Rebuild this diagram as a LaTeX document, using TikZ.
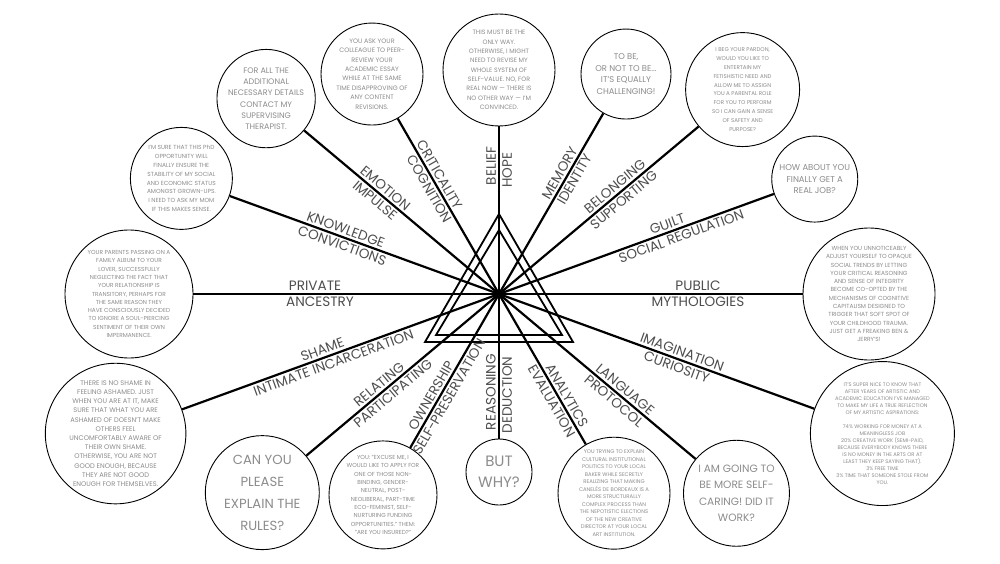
\documentclass[tikz,border=0pt]{standalone}
\usepackage{fontspec}
\setmainfont{Poppins}
\usetikzlibrary{calc}
\definecolor{circgray}{RGB}{140,140,140}
\definecolor{labgray}{RGB}{78,78,78}
\newcommand{\cfs}[2]{\fontsize{#1}{#2}\selectfont}
\begin{document}
\begin{tikzpicture}[x=1pt,y=1pt,
  circ/.style={circle, draw=black, line width=0.9pt, inner sep=0pt, align=center, text=circgray},
  spoke/.style={line width=2.2pt, black},
  tri/.style={line width=1.8pt, black, line join=miter},
  lab/.style={text=labgray, font=\cfs{13.6}{13.6}, inner sep=3pt},
  up/.style={anchor=south}, dn/.style={anchor=north}]
\useasboundingbox (0,0) rectangle (1000,563);
\fill[white] (0,0) rectangle (1000,563);
\coordinate (C) at (499,269);

% circles
\node[circ, minimum size=112pt, font=\cfs{6.3}{9.3}] (g1) at ($(C)+(90:224pt)$)
 {THIS MUST BE THE\\ONLY WAY.\\OTHERWISE, I MIGHT\\NEED TO REVISE MY\\WHOLE SYSTEM OF\\SELF-VALUE. NO, FOR\\REAL NOW — THERE IS\\NO OTHER WAY — I'M\\CONVINCED.};
\node[circ, minimum size=90pt, font=\cfs{8.4}{11.7}] (g2) at ($(C)+(60:254pt)$)
 {TO BE,\\OR NOT TO BE...\\IT'S EQUALLY\\CHALLENGING!};
\node[circ, minimum size=114pt, font=\cfs{5.5}{8.8}] (g3) at ($(C)+(40:318pt)$)
 {I BEG YOUR PARDON,\\WOULD YOU LIKE TO\\ENTERTAIN MY\\FETISHISTIC NEED AND\\ALLOW ME TO ASSIGN\\YOU A PARENTAL ROLE\\FOR YOU TO PERFORM\\SO I CAN GAIN A SENSE\\OF SAFETY AND\\PURPOSE?};
\node[circ, minimum size=86pt, font=\cfs{8.5}{11.2}] (g4) at ($(C)+(20:336pt)$)
 {HOW ABOUT YOU\\FINALLY GET A\\REAL JOB?};
\node[circ, minimum size=132pt, font=\cfs{5.9}{8.3}] (g5) at ($(C)+(0:370pt)$)
 {WHEN YOU UNNOTICEABLY\\ADJUST YOURSELF TO OPAQUE\\SOCIAL TRENDS BY LETTING\\YOUR CRITICAL REASONING\\AND SENSE OF INTEGRITY\\BECOME CO-OPTED BY THE\\MECHANISMS OF COGNITIVE\\CAPITALISM DESIGNED TO\\TRIGGER THAT SOFT SPOT OF\\YOUR CHILDHOOD TRAUMA.\\JUST GET A FREAKING BEN \&\\JERRY'S!};
\node[circ, minimum size=144pt, font=\cfs{5.2}{7}] (g6) at ($(C)+(-20:408pt)$)
 {IT'S SUPER NICE TO KNOW THAT\\AFTER YEARS OF ARTISTIC AND\\ACADEMIC EDUCATION I'VE MANAGED\\TO MAKE MY LIFE A TRUE REFLECTION\\OF MY ARTISTIC ASPIRATIONS:\\[7pt]74\% WORKING FOR MONEY AT A\\MEANINGLESS JOB\\20\% CREATIVE WORK (SEMI-PAID,\\BECAUSE EVERYBODY KNOWS THERE\\IS NO MONEY IN THE ARTS OR AT\\LEAST THEY KEEP SAYING THAT).\\3\% FREE TIME\\3\% TIME THAT SOMEONE STOLE FROM\\YOU.};
\node[circ, minimum size=106pt, font=\cfs{10.6}{16.3}] (g7) at ($(C)+(-40:310pt)$)
 {I AM GOING TO\\BE MORE SELF-\\CARING! DID IT\\WORK?};
\node[circ, minimum size=112pt, font=\cfs{5.3}{7.5}] (g8) at ($(C)+(-60:230pt)$)
 {YOU TRYING TO EXPLAIN\\CULTURAL INSTITUTIONAL\\POLITICS TO YOUR LOCAL\\BAKER WHILE SECRETLY\\REALIZING THAT MAKING\\CANELÉS DE BORDEAUX IS A\\MORE STRUCTURALLY\\COMPLEX PROCESS THAN\\THE NEPOTISTIC ELECTIONS\\OF THE NEW CREATIVE\\DIRECTOR AT YOUR LOCAL\\ART INSTITUTION.};
\node[circ, minimum size=66pt, font=\cfs{15}{21}] (g9) at ($(C)+(-90:178pt)$)
 {BUT\\WHY?};
\node[circ, minimum size=108pt, font=\cfs{5.8}{8.3}] (g10) at ($(C)+(-120:232pt)$)
 {YOU: "EXCUSE ME, I\\WOULD LIKE TO APPLY FOR\\ONE OF THOSE NON-\\BINDING, GENDER-\\NEUTRAL, POST-\\NEOLIBERAL, PART-TIME\\ECO-FEMINIST, SELF-\\NURTURING FUNDING\\OPPORTUNITIES." THEM:\\"ARE YOU INSURED?"};
\node[circ, minimum size=114pt, font=\cfs{13.2}{22}] (g11) at ($(C)+(-140:309pt)$)
 {CAN YOU\\PLEASE\\EXPLAIN THE\\RULES?};
\node[circ, minimum size=136pt, font=\cfs{6.7}{9.2}] (g12) at ($(C)+(-160:408pt)$)
 {THERE IS NO SHAME IN\\FEELING ASHAMED. JUST\\WHEN YOU ARE AT IT, MAKE\\SURE THAT WHAT YOU ARE\\ASHAMED OF DOESN'T MAKE\\OTHERS FEEL\\UNCOMFORTABLY AWARE OF\\THEIR OWN SHAME.\\OTHERWISE, YOU ARE NOT\\GOOD ENOUGH, BECAUSE\\THEY ARE NOT GOOD\\ENOUGH FOR THEMSELVES.};
\node[circ, minimum size=128pt, font=\cfs{5.8}{8.3}] (g13) at ($(C)+(180:370pt)$)
 {YOUR PARENTS PASSING ON A\\FAMILY ALBUM TO YOUR\\LOVER, SUCCESSFULLY\\NEGLECTING THE FACT THAT\\YOUR RELATIONSHIP IS\\TRANSITORY, PERHAPS FOR\\THE SAME REASON THEY\\HAVE CONSCIOUSLY DECIDED\\TO IGNORE A SOUL-PIERCING\\SENTIMENT OF THEIR OWN\\IMPERMANENCE.};
\node[circ, minimum size=102pt, font=\cfs{5.9}{8.9}] (g14) at ($(C)+(160:338pt)$)
 {I'M SURE THAT THIS PhD\\OPPORTUNITY WILL\\FINALLY ENSURE THE\\STABILITY OF MY SOCIAL\\AND ECONOMIC STATUS\\AMONGST GROWN-UPS.\\I NEED TO ASK MY MOM\\IF THIS MAKES SENSE.};
\node[circ, minimum size=94pt, font=\cfs{8}{11.3}] (g15) at ($(C)+(140:304pt)$)
 {FOR ALL THE\\ADDITIONAL\\NECESSARY DETAILS\\CONTACT MY\\SUPERVISING\\THERAPIST.};
\node[circ, minimum size=102pt, font=\cfs{6.4}{9.4}] (g16) at ($(C)+(120:254pt)$)
 {YOU ASK YOUR\\COLLEAGUE TO PEER-\\REVIEW YOUR\\ACADEMIC ESSAY\\WHILE AT THE SAME\\TIME DISAPPROVING OF\\ANY CONTENT\\REVISIONS.};

% triangles
\draw[tri] (499,349) -- (573,221) -- (425,221) -- cycle;
\draw[tri] (499,333) -- (562,228) -- (436,228) -- cycle;

% spokes
\foreach \n in {1,...,16} { \draw[spoke] (C) -- (g\n); }

% labels
\node[lab, up, rotate=90] (a1) at ($(C)+(90:128pt)$) {BELIEF};
\node[lab, dn, rotate=90] (b1) at ($(C)+(90:124pt)$) {HOPE};
\node[lab, up, rotate=60] (a2) at ($(C)+(60:135pt)$) {MEMORY};
\node[lab, dn, rotate=60] (b2) at ($(C)+(60:137pt)$) {IDENTITY};
\node[lab, up, rotate=40] (a3) at ($(C)+(40:158pt)$) {BELONGING};
\node[lab, dn, rotate=40] (b3) at ($(C)+(40:156pt)$) {SUPPORTING};
\node[lab, up, rotate=20] (a4) at ($(C)+(20:182pt)$) {GUILT};
\node[lab, dn, rotate=20] (b4) at ($(C)+(20:191pt)$) {SOCIAL REGULATION};
\node[lab, up] (a5) at ($(C)+(0:199pt)$) {PUBLIC};
\node[lab, dn] (b5) at ($(C)+(0:199pt)$) {MYTHOLOGIES};
\node[lab, up, rotate=-20] (a6) at ($(C)+(-20:192pt)$) {IMAGINATION};
\node[lab, dn, rotate=-20] (b6) at ($(C)+(-20:192pt)$) {CURIOSITY};
\node[lab, up, rotate=-40] (a7) at ($(C)+(-40:158pt)$) {LANGUAGE};
\node[lab, dn, rotate=-40] (b7) at ($(C)+(-40:157pt)$) {PROTOCOL};
\node[lab, up, rotate=-60] (a8) at ($(C)+(-60:122pt)$) {ANALYTICS};
\node[lab, dn, rotate=-60] (b8) at ($(C)+(-60:119pt)$) {EVALUATION};
\node[lab, up, rotate=90] (a9) at ($(C)+(-90:98pt)$) {REASONING};
\node[lab, dn, rotate=90] (b9) at ($(C)+(-90:101pt)$) {DEDUCTION};
\node[lab, up, rotate=60] (a10) at ($(C)+(-120:122pt)$) {OWNERSHIP};
\node[lab, dn, rotate=60] (b10) at ($(C)+(-120:114pt)$) {SELF-PRESERVATION};
\node[lab, up, rotate=40] (a11) at ($(C)+(-140:150pt)$) {RELATING};
\node[lab, dn, rotate=40] (b11) at ($(C)+(-140:145pt)$) {PARTICIPATING};
\node[lab, up, rotate=20] (a12) at ($(C)+(-160:185pt)$) {SHAME};
\node[lab, dn, rotate=20] (b12) at ($(C)+(-160:179pt)$) {INTIMATE INCARCERATION};
\node[lab, up] (a13) at ($(C)+(180:184pt)$) {PRIVATE};
\node[lab, dn] (b13) at ($(C)+(180:179pt)$) {ANCESTRY};
\node[lab, up, rotate=-20] (a14) at ($(C)+(160:166pt)$) {KNOWLEDGE};
\node[lab, dn, rotate=-20] (b14) at ($(C)+(160:164pt)$) {CONVICTIONS};
\node[lab, up, rotate=-40] (a15) at ($(C)+(140:155pt)$) {EMOTION};
\node[lab, dn, rotate=-40] (b15) at ($(C)+(140:155pt)$) {IMPULSE};
\node[lab, up, rotate=-60] (a16) at ($(C)+(120:133pt)$) {CRITICALITY};
\node[lab, dn, rotate=-60] (b16) at ($(C)+(120:126pt)$) {COGNITION};
\end{tikzpicture}
\end{document}
